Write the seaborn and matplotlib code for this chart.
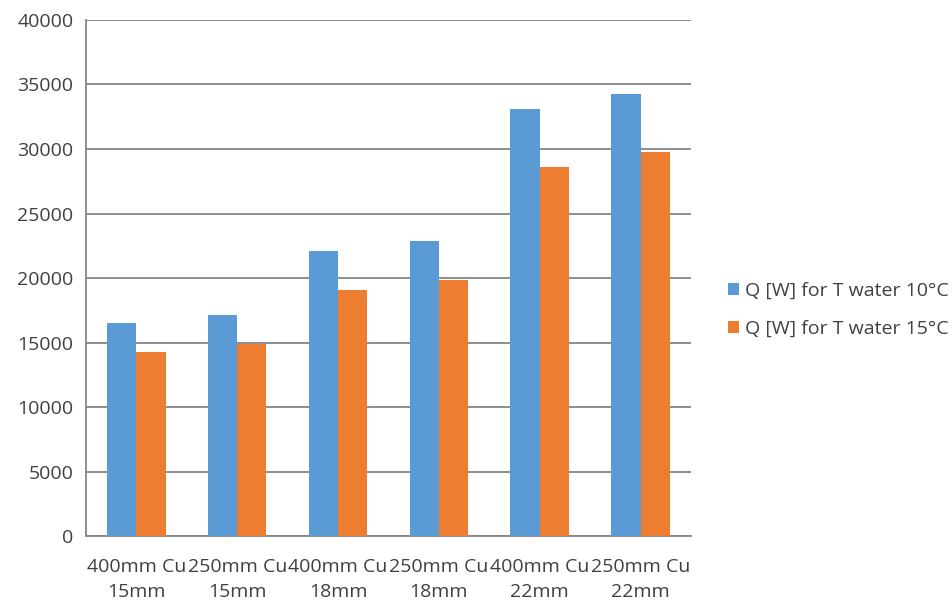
import pandas as pd
import numpy as np
import seaborn as sns
import matplotlib.pyplot as plt

categories = ['400mm Cu\n15mm', '250mm Cu\n15mm', '400mm Cu\n18mm',
              '250mm Cu\n18mm', '400mm Cu\n22mm', '250mm Cu\n22mm']
q_10 = [16500, 17150, 22100, 22900, 33100, 34300]
q_15 = [14250, 14900, 19050, 19850, 28600, 29800]
series = ['Q [W] for T water 10°C', 'Q [W] for T water 15°C']

df = pd.DataFrame({
    'Category': categories * 2,
    'Q': q_10 + q_15,
    'Series': [series[0]] * len(categories) + [series[1]] * len(categories),
})

sns.set_style('white')
plt.rcParams['font.family'] = ['Open Sans', 'DejaVu Sans']

fig = plt.figure(figsize=(9.52, 6.06), dpi=100)
ax = fig.add_axes([0.0903, 0.1155, 0.6355, 0.8515])

sns.barplot(data=df, x='Category', y='Q', hue='Series',
            palette=['#5B9BD5', '#ED7D31'], width=0.58, gap=0,
            saturation=1, linewidth=0, ax=ax, zorder=3)

grey = '#868686'
text_col = '#404040'
ax.set_ylim(0, 40000)
ax.set_xlim(-0.5, len(categories) - 0.5)
ax.set_yticks(np.arange(0, 40001, 5000))
ax.yaxis.grid(True, color=grey, linewidth=1.3, zorder=0)
ax.set_axisbelow(True)
ax.set_xlabel('')
ax.set_ylabel('')

for s in ['top', 'right']:
    ax.spines[s].set_visible(False)
for s in ['left', 'bottom']:
    ax.spines[s].set_color(grey)
    ax.spines[s].set_linewidth(1.3)

ax.tick_params(axis='y', length=5, color=grey, width=1.3, labelsize=14,
               labelcolor=text_col, pad=4)
ax.tick_params(axis='x', which='major', length=0, labelsize=14,
               labelcolor=text_col, pad=16)
for lbl in ax.get_xticklabels():
    lbl.set_linespacing(1.45)
ax.set_xticks(np.arange(-0.5, len(categories)), minor=True)
ax.tick_params(axis='x', which='minor', length=6, color=grey, width=1.3)

handles, labels = ax.get_legend_handles_labels()
ax.legend(handles, labels, loc='center left', bbox_to_anchor=(1.0, 0.438),
          frameon=False, fontsize=14, handlelength=0.55, handleheight=0.55,
          handletextpad=0.35, labelspacing=1.05, labelcolor=text_col,
          borderaxespad=1.5)

fig.savefig('out.png', dpi=100)
